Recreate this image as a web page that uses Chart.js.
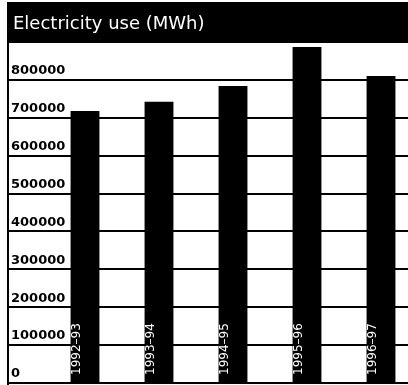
<!DOCTYPE html>
<html>
<head>
<meta charset="utf-8">
<script src="https://cdn.jsdelivr.net/npm/chart.js@4/dist/chart.umd.min.js"></script>
<style>
  html, body { margin: 0; padding: 0; background: #fff; overflow: hidden; }
  #electricChart { display: block; }
</style>
</head>
<body>
<canvas id="electricChart" width="418" height="385"></canvas>
<script>
let titleText = 'Electricity use (MWh)';
let years = ['1992–93', '1993–94', '1994–95', '1995–96', '1996–97'];
let usage = [718000, 742000, 784000, 887000, 810000];
let yTicks = [0, 100000, 200000, 300000, 400000, 500000, 600000, 700000, 800000];

// black header band, left rule and the year labels inside the bars
let framePlugin = {
    id: 'frame',
    afterDatasetsDraw(chart) {
        let ctx = chart.ctx;
        let xs = chart.scales.x;
        ctx.save();
        ctx.fillStyle = '#fff';
        ctx.font = '12px "DejaVu Sans"';
        ctx.textAlign = 'left';
        ctx.textBaseline = 'middle';
        for (let i = 0; i < years.length; i++) {
            ctx.save();
            ctx.translate(xs.getPixelForValue(i) - 8, 375);
            ctx.rotate(-Math.PI / 2);
            ctx.fillText(years[i], 0, 0);
            ctx.restore();
        }
        ctx.restore();
    },
    afterDraw(chart) {
        let ctx = chart.ctx;
        ctx.save();
        ctx.fillStyle = '#000';
        ctx.fillRect(7, 2, chart.width - 7, 41);
        ctx.fillStyle = '#fff';
        ctx.font = '18px "DejaVu Sans"';
        ctx.textBaseline = 'alphabetic';
        ctx.fillText(titleText, 13, 29);
        ctx.strokeStyle = '#000';
        ctx.lineWidth = 2;
        ctx.beginPath();
        ctx.moveTo(8, 2);
        ctx.lineTo(8, 385);
        ctx.stroke();
        ctx.restore();
    }
};

let config = {
    type: 'bar',
    data: {
        labels: years,
        datasets: [{
            label: titleText,
            data: usage,
            backgroundColor: '#000',
            borderWidth: 0,
            categoryPercentage: 1,
            barPercentage: 0.39
        }]
    },
    options: {
        responsive: false,
        animation: false,
        layout: { padding: { left: 11, top: 42, right: 0, bottom: 2 } },
        plugins: {
            legend: { display: false },
            tooltip: { enabled: false }
        },
        scales: {
            x: {
                display: false,
                offset: true
            },
            y: {
                min: 0,
                max: 900000,
                afterFit(scale) { scale.width = 37; },
                afterBuildTicks(scale) {
                    scale.ticks = yTicks.map(v => ({ value: v }));
                },
                border: { display: false },
                grid: {
                    color: '#000',
                    lineWidth: 2,
                    drawTicks: true,
                    tickLength: 40
                },
                ticks: {
                    mirror: true,
                    padding: -37,
                    crossAlign: 'near',
                    labelOffset: -9,
                    color: '#000',
                    font: { family: 'DejaVu Sans', size: 13, weight: 'bold' },
                    callback: v => String(v)
                }
            }
        }
    },
    plugins: [framePlugin]
};

new Chart(document.getElementById('electricChart'), config);
</script>
</body>
</html>
